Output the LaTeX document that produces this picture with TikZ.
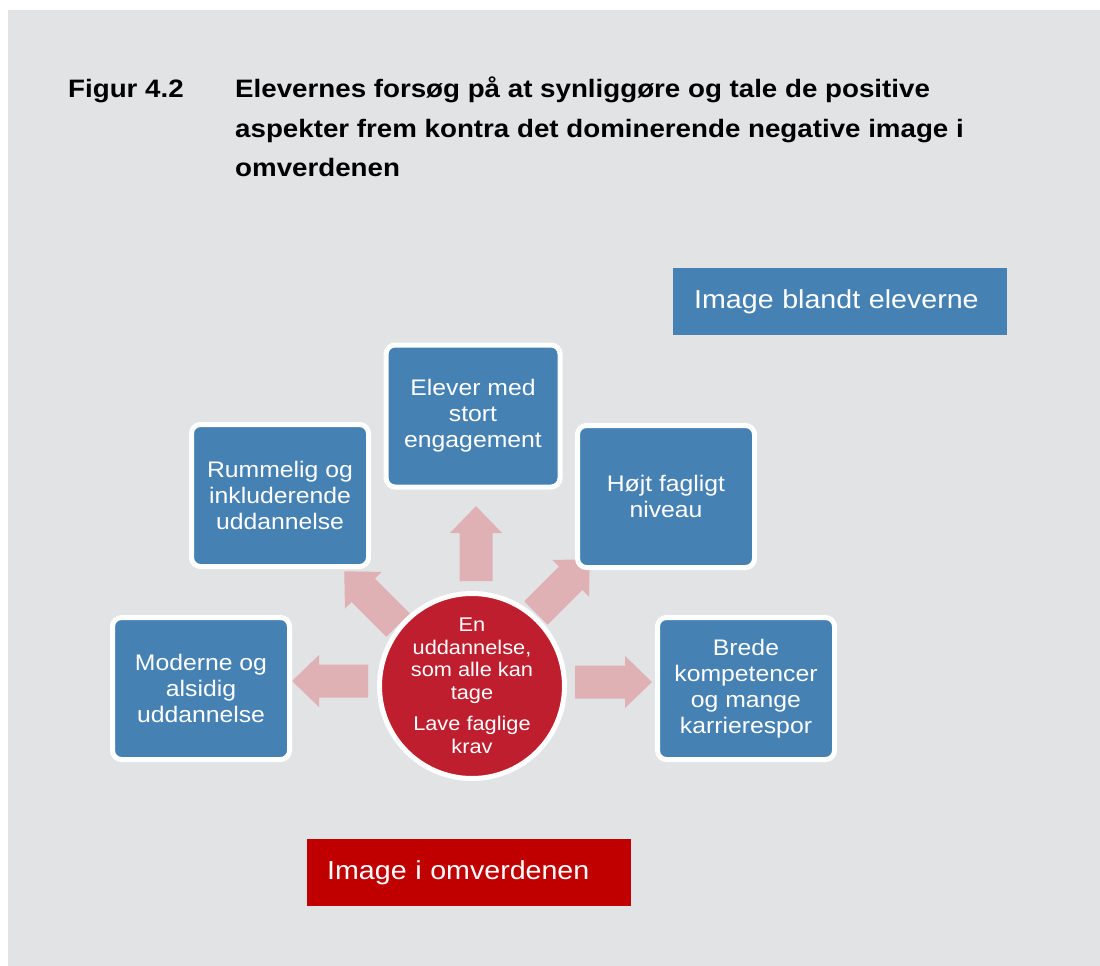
\documentclass[tikz,border=0pt]{standalone}
\usepackage{fontspec}
\setmainfont{Liberation Sans}[FakeStretch=1.1]
\usetikzlibrary{calc}
\definecolor{bggray}{RGB}{226,227,229}
\definecolor{boxblue}{RGB}{70,129,180}
\definecolor{circred}{RGB}{190,30,45}
\definecolor{arrowpink}{RGB}{223,176,180}
\definecolor{labelred}{RGB}{192,0,0}
\newcommand\blockarrow[3]{%
  \begin{scope}[shift={(#1)},rotate=#2]
    \fill[arrowpink] (0,-16.5) -- (#3-27,-16.5) -- (#3-27,-26) -- (#3,0) -- (#3-27,26) -- (#3-27,16.5) -- (0,16.5) -- cycle;
  \end{scope}}
\tikzset{
  bluebox/.style={draw=white, line width=5pt, fill=boxblue, rounded corners=9pt,
    minimum width=177pt, minimum height=142pt, inner sep=0pt, text=white,
    align=center, font=\fontsize{22.5}{26}\selectfont},
  hub/.style={circle, draw=white, line width=5pt, fill=circred, minimum size=185pt,
    inner sep=0pt, text=white, align=center, font=\fontsize{19.8}{22.5}\selectfont},
  legend/.style={rectangle, inner xsep=21pt, minimum height=67pt, text=white,
    align=left, anchor=north west, font=\fontsize{26}{30}\selectfont},
  titletext/.style={anchor=base west, inner sep=0pt, font=\fontsize{25.2}{30}\selectfont\bfseries}
}
\begin{document}
\begin{tikzpicture}[x=1pt,y=-1pt]
  \useasboundingbox (0,0) rectangle (1100,966);
  \fill[white] (0,0) rectangle (1100,966);
  \fill[bggray] (8,10) rectangle (1100,966);

  % title
  \node[titletext] (fig) at (68,97) {Figur 4.2};
  \node[titletext] (t1) at (235,97) {Elevernes forsøg på at synliggøre og tale de positive};
  \node[titletext] (t2) at (235,137) {aspekter frem kontra det dominerende negative image i};
  \node[titletext] (t3) at (235,176) {omverdenen};

  % arrows
  \blockarrow{476,581}{90}{75}
  \blockarrow{575,682}{0}{77}
  \blockarrow{368,681}{180}{76}
  \blockarrow{398,625}{135}{76}
  \blockarrow{536,613}{45}{76}

  % hub
  \node[hub] (hub) at (472,686) {En\\uddannelse,\\som alle kan\\tage\\[9pt]Lave faglige\\krav};

  % boxes
  \node[bluebox] (mod) at (201,688.5) {Moderne og\\alsidig\\uddannelse};
  \node[bluebox] (rum) at (280,495.5) {Rummelig og\\inkluderende\\uddannelse};
  \node[bluebox, minimum width=174pt] (elv) at (473,416) {Elever med\\stort\\engagement};
  \node[bluebox] (hoj) at (666,496.5) {Højt fagligt\\niveau};
  \node[bluebox] (bre) at (746,688.5) {Brede\\kompetencer\\og mange\\karrierespor};

  % legend labels
  \node[legend, fill=boxblue, text width=292pt] (lblue) at (673,268) {Image blandt eleverne};
  \node[legend, fill=labelred, text width=284pt, inner xsep=20pt] (lred) at (307,839) {Image i omverdenen};
\end{tikzpicture}
\end{document}
